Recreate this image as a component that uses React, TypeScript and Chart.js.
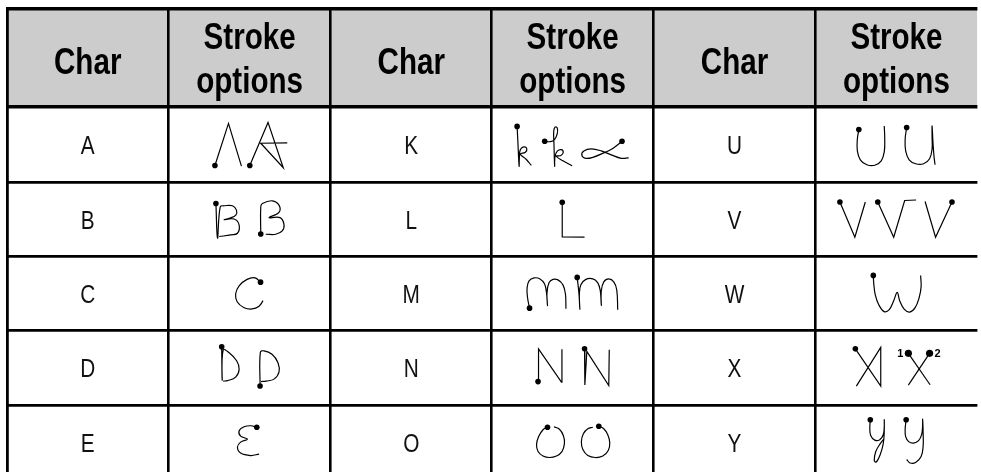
import React, { useEffect, useRef } from "react";
import { Chart, registerables } from "chart.js";

Chart.register(...registerables);

// ---------- table data ----------
const headerLabels = ["Char", "Stroke\noptions", "Char", "Stroke\noptions", "Char", "Stroke\noptions"];
const charsGroup1 = ["A", "B", "C", "D", "E"];
const charsGroup2 = ["K", "L", "M", "N", "O"];
const charsGroup3 = ["U", "V", "W", "X", "Y"];

// rule positions in table units
const columnRules = [7, 169, 332, 493.5, 656, 818.5];
const rowRules = [8.75, 107.5, 183.5, 258, 333, 408];
const tableRight = 981;
const tableBottom = 483;

// ---------- stroke samples (table units) ----------
const strokeA1 = [[215.7, 166.7], [229.3, 124.3], [242.3, 167.3]];
const strokeA2 = [[250.7, 166.7], [269, 123.3], [284.3, 169], [261.7, 144.3], [288.3, 144]];
const strokeB1 = [[216.7, 205], [218.3, 240], [221, 208.3], [225, 207.3], [233.3, 207.3], [237.3, 211.7], [236.7, 216.7], [230, 220], [225, 221.3], [235, 220.7], [240, 226.7], [238.3, 235], [231.7, 236.7], [220, 238.3]];
const strokeB2 = [[261.7, 235.7], [261.7, 208.3], [263.3, 205], [273.3, 202.3], [280, 206.7], [280, 214], [270, 219.3], [281, 219.3], [285, 226], [283.3, 232.7], [276.7, 236], [266.7, 236]];
const strokeC = [[261.5, 284.3], [256, 280], [248, 281.5], [240, 288], [236.5, 296], [238, 304], [245, 310], [253, 311.3], [260, 308.5], [264, 303]];
const strokeD1 = [[222.5, 349.5], [223, 383], [224, 352.5], [230, 355.5], [237.5, 363.5], [240, 372], [236.5, 380], [228.5, 383.5], [224, 384]];
const strokeD2 = [[261, 389], [261.3, 355], [265, 353.5], [273, 357], [279, 365.5], [280, 375], [275, 382], [267, 384], [262, 384.5]];
const strokeE = [[257.7, 430.5], [251.7, 429], [245, 430], [240, 434], [241.5, 439.5], [248.3, 442.5], [241.5, 445.5], [238.3, 450.5], [241.5, 456.5], [251.5, 459], [260, 457.5]];

const strokeK1 = [[519, 127.3], [519.7, 141.3], [521, 167.3], [521.3, 158], [522.3, 150.7], [525.7, 148], [528.7, 149.7], [527.3, 153.3], [522.3, 155.3], [528.3, 160.7], [533.3, 166.7]];
const strokeK2 = [[546.7, 142.3], [552.3, 142.7], [556.7, 140.3], [559.3, 134.7], [559.3, 129], [557, 128], [555.7, 133], [556, 144.7], [556.7, 167.3], [557, 158], [559.3, 152.3], [563.3, 150.7], [565.3, 153.3], [563, 156.7], [558.3, 157.3], [565, 162], [574.3, 167]];
const strokeK3 = [[624.3, 142.3], [615, 149.5], [605, 154.5], [595, 158.5], [588, 159.5], [584, 156.5], [586, 152], [593.5, 150], [603.5, 152], [613.5, 156], [623.5, 159.5], [631, 159]];
const strokeL = [[564.3, 203.7], [564.3, 238.7], [586.7, 239]];
const strokeM1 = [[531.5, 310.5], [529.5, 300], [529, 290], [531, 283], [536, 280], [542, 281], [546.5, 286], [548.5, 295], [549.5, 308], [549, 295], [551, 285], [555, 281.5], [560, 282], [565, 287], [567.5, 296], [568, 311]];
const strokeM2 = [[579.3, 279.5], [581, 295], [582, 311.5], [581.5, 296], [583, 287], [588, 281.5], [595, 281], [600, 285], [602.5, 293], [603.5, 308], [603.5, 293], [606, 284], [611, 281], [616, 284], [619, 292], [620, 312]];
const strokeN1 = [[540, 384.5], [540.5, 351.5], [563.5, 385], [564, 352]];
const strokeN2 = [[586.7, 351.5], [587, 388], [589, 354], [611, 388.5], [611.5, 352.5]];
const strokeO1 = [[549.5, 430.5], [545, 433], [540.5, 440], [538.5, 448], [540, 455], [545, 459.5], [551.5, 461], [558.5, 459.5], [564, 455], [566.5, 447], [565.5, 439], [561.5, 432.5], [556, 430]];
const strokeO2 = [[601, 429.5], [606, 432], [610, 438], [612, 446], [610.5, 454], [605, 459.5], [597.5, 461], [590, 459], [585, 453], [583.5, 445], [585.5, 437], [590, 432], [595, 430.5]];

const strokeU1 = [[862, 130.5], [860.5, 140], [860.5, 152], [863.5, 161], [870, 166], [878, 166.5], [884.5, 162], [887.5, 153], [888, 140], [887.5, 127]];
const strokeU2 = [[910, 128.5], [908.5, 140], [909, 152], [912.5, 161], [919, 165], [927, 165], [933, 160], [935.5, 150], [935.5, 138], [935.5, 127], [936.5, 145], [937.5, 158], [938.5, 166]];
const strokeV1 = [[843, 203.5], [858, 239], [868.5, 203.5]];
const strokeV2 = [[881, 203.5], [897, 239], [908, 202], [919.5, 201.5]];
const strokeV3 = [[955.5, 203.5], [939, 239], [928.5, 203]];
const strokeW = [[876.5, 277.5], [877, 286], [878.5, 297], [882, 307], [887.5, 314], [892.5, 312], [897, 303], [900.5, 294.5], [903, 303], [907.5, 311.5], [913, 314.5], [918.5, 310], [922.5, 300], [924.5, 289], [924, 277.5]];
const strokeX1 = [[858.5, 351.5], [884, 389], [884, 350], [859.5, 389]];
const strokeX2a = [[911.7, 356], [933.5, 387.7]];
const strokeX2b = [[933, 356], [911.7, 388]];
const strokeY1 = [[873.5, 423], [873, 432], [874, 439], [878, 443.5], [883, 443], [886.5, 438], [887.5, 430], [887.5, 423], [887.5, 435], [886.5, 447], [883.5, 458], [879.5, 465.5], [877.5, 464], [879, 455], [883.5, 447], [887.5, 442]];
const strokeY2 = [[909.5, 423], [908.5, 432], [909, 440], [912, 445], [917, 446.5], [922, 444], [925, 438], [926, 429], [926, 422.5], [926.5, 435], [926.5, 450], [924.5, 460], [919, 466], [913.5, 466.5], [910, 463]];

const numberedStrokes = [strokeX2a, strokeX2b];
const numberedStrokeLabels = ["1", "2"];

const allStrokes = [
  strokeA1, strokeA2, strokeB1, strokeB2, strokeC, strokeD1, strokeD2, strokeE,
  strokeK1, strokeK2, strokeK3, strokeL, strokeM1, strokeM2, strokeN1, strokeN2, strokeO1, strokeO2,
  strokeU1, strokeU2, strokeV1, strokeV2, strokeV3, strokeW, strokeX1, strokeX2a, strokeX2b, strokeY1, strokeY2,
];

// ---------- styles ----------
const straightStrokes = new Set([strokeA1, strokeA2, strokeL, strokeN1, strokeN2, strokeV1, strokeV2, strokeV3, strokeX1, strokeX2a, strokeX2b]);
const FONT_FAMILY = '"Liberation Sans", Arial, sans-serif';
const NARROW = 0.8; // horizontal squeeze to mimic a narrow face
const HEADER_FILL = "#cccccc";

function narrowText(ctx: CanvasRenderingContext2D, text: string, cx: number, y: number) {
  ctx.save();
  ctx.translate(cx, y);
  ctx.scale(NARROW, 1);
  ctx.fillText(text, 0, 0);
  ctx.restore();
}

const tableTextPlugin = {
  id: "tableText",
  afterDraw(chart: any) {
    const { ctx } = chart;
    const xs = chart.scales.x;
    const ys = chart.scales.y;
    const colEdges = [...columnRules, tableRight];
    const rowEdges = [...rowRules, tableBottom];
    ctx.save();
    ctx.fillStyle = "#000";
    ctx.textAlign = "center";
    ctx.textBaseline = "alphabetic";
    // headers
    ctx.font = `bold 37px ${FONT_FAMILY}`;
    headerLabels.forEach((label, i) => {
      const cx = xs.getPixelForValue((colEdges[i] + colEdges[i + 1]) / 2);
      const top = ys.getPixelForValue(rowEdges[0]);
      const bottom = ys.getPixelForValue(rowEdges[1]);
      const mid = (top + bottom) / 2;
      const lines = label.split("\n");
      if (lines.length === 1) {
        narrowText(ctx, lines[0], cx, mid + 16);
      } else {
        narrowText(ctx, lines[0], cx, mid - 9);
        narrowText(ctx, lines[1], cx, mid + 35);
      }
    });
    // body characters
    ctx.font = `26px ${FONT_FAMILY}`;
    ctx.fillStyle = "#111";
    const groups = [charsGroup1, charsGroup2, charsGroup3];
    groups.forEach((group, g) => {
      const ci = g * 2;
      const cx = xs.getPixelForValue((colEdges[ci] + colEdges[ci + 1]) / 2);
      group.forEach((ch, r) => {
        const top = ys.getPixelForValue(rowEdges[r + 1]);
        const bottom = ys.getPixelForValue(rowEdges[r + 2]);
        const mid = (top + bottom) / 2;
        narrowText(ctx, ch, cx, mid + 9.5);
      });
    });
    // stroke order numbers
    ctx.font = `bold 11px ${FONT_FAMILY}`;
    ctx.fillStyle = "#000";
    numberedStrokes.forEach((s, i) => {
      const px = xs.getPixelForValue(s[0][0]);
      const py = ys.getPixelForValue(s[0][1]);
      const dx = i === 0 ? -8 : 8;
      ctx.fillText(numberedStrokeLabels[i], px + dx, py + 4);
    });
    ctx.restore();
  },
};

export default function App() {
  const ref = useRef<HTMLCanvasElement>(null);
  useEffect(() => {
    document.body.style.margin = "0";
    const strokeSets = allStrokes.map((s) => {
      const numbered = numberedStrokes.includes(s);
      return {
        type: "line" as const,
        data: s.map(([x, y]) => ({ x, y })),
        borderColor: "#000",
        borderWidth: 1.2,
        tension: straightStrokes.has(s) ? 0 : 0.4,
        fill: false,
        pointRadius: (c: any) => (c.dataIndex === 0 ? (numbered ? 3.6 : 2.8) : 0),
        pointBackgroundColor: "#000",
        pointBorderWidth: 0,
        pointHoverRadius: 0,
        order: 1,
      };
    });
    const headerBand = {
      type: "line" as const,
      data: [
        { x: columnRules[0], y: rowRules[0] },
        { x: tableRight, y: rowRules[0] },
      ],
      borderWidth: 0,
      pointRadius: 0,
      backgroundColor: HEADER_FILL,
      fill: { value: rowRules[1] },
      order: 2,
    };
    const chart = new Chart(ref.current!, {
      type: "scatter",
      data: { datasets: [headerBand, ...strokeSets] as any },
      options: {
        animation: false,
        responsive: false,
        devicePixelRatio: 1,
        events: [],
        layout: { padding: { left: 6, top: 7, right: 0, bottom: 0 } },
        plugins: { legend: { display: false }, tooltip: { enabled: false } },
        scales: {
          x: {
            type: "linear",
            min: 6,
            max: 981,
            afterBuildTicks: (sc: any) => {
              sc.ticks = columnRules.map((v) => ({ value: v }));
            },
            afterFit: (sc: any) => {
              sc.height = 0;
            },
            ticks: { display: false },
            border: { display: false },
            grid: {
              z: 1,
              color: "#000",
              drawTicks: false,
              lineWidth: (c: any) => (c.index === 0 ? 2.8 : 2.6),
            },
          },
          y: {
            type: "linear",
            min: 7,
            max: 476,
            reverse: true,
            afterBuildTicks: (sc: any) => {
              sc.ticks = rowRules.map((v) => ({ value: v }));
            },
            afterFit: (sc: any) => {
              sc.width = 0;
            },
            ticks: { display: false },
            border: { display: false },
            grid: {
              z: 1,
              color: "#000",
              drawTicks: false,
              lineWidth: (c: any) => (c.index <= 1 ? 3.6 : 2.8),
            },
          },
        },
      },
      plugins: [tableTextPlugin],
    });
    return () => chart.destroy();
  }, []);
  return (
    <div style={{ width: 981, height: 476, background: "#fff" }}>
      <canvas ref={ref} width={981} height={476} style={{ display: "block" }} />
    </div>
  );
}
